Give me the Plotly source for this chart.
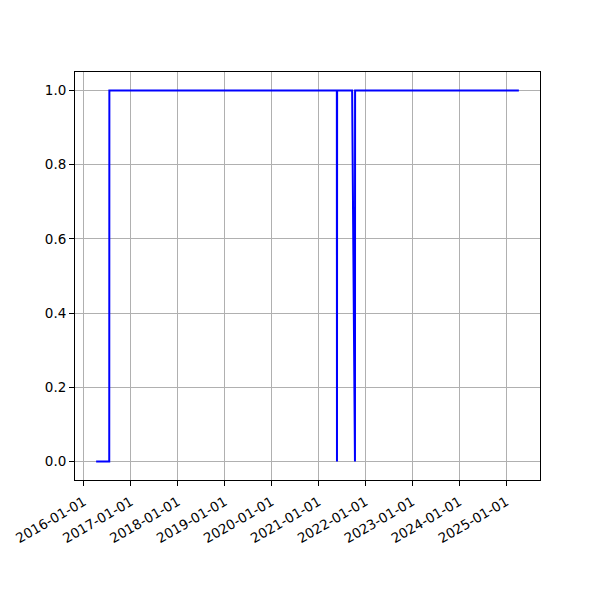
import pandas as pd
import plotly.graph_objects as go

# Observed points of the 0/1 series (line drawn through them)
dates = ["2016-04-05", "2016-07-16", "2016-07-17", "2021-05-23", "2021-05-24",
         "2021-05-25", "2021-09-19", "2021-10-11", "2021-10-12", "2025-04-09"]
values = [0, 0, 1, 1, 0, 1, 1, 0, 1, 1]

tick_years = list(range(2016, 2026))
tick_vals = [f"{y}-01-01" for y in tick_years]
tick_text = [f"{y}-01-01" for y in tick_years]
y_ticks = [0.0, 0.2, 0.4, 0.6, 0.8, 1.0]

d = pd.to_datetime(dates)
span = d.max() - d.min()
x_range = [d.min() - span * 0.05, d.max() + span * 0.05]

fig = go.Figure()
fig.add_trace(go.Scatter(x=d, y=values, mode="lines",
                         line=dict(color="#0000ff", width=2), showlegend=False))

axis_common = dict(showline=True, linecolor="black", linewidth=1, mirror=True,
                   ticks="outside", ticklen=5, tickcolor="black", tickwidth=1,
                   showgrid=True, gridcolor="#b0b0b0", gridwidth=1,
                   zeroline=False, tickfont=dict(family="DejaVu Sans", size=13.5, color="black"))

fig.update_xaxes(range=x_range, tickvals=tick_vals, ticktext=tick_text, tickangle=-30,
                 ticklabelstandoff=3, **axis_common)
fig.update_yaxes(range=[-0.05, 1.05], tickvals=y_ticks,
                 ticktext=[f"{v:.1f}" for v in y_ticks], **axis_common)

fig.update_layout(width=600, height=600, plot_bgcolor="white", paper_bgcolor="white",
                  margin=dict(l=67, r=68, t=64, b=128, autoexpand=False),
                  font=dict(family="DejaVu Sans", size=13.5, color="black"))

fig.write_html("out.html")
